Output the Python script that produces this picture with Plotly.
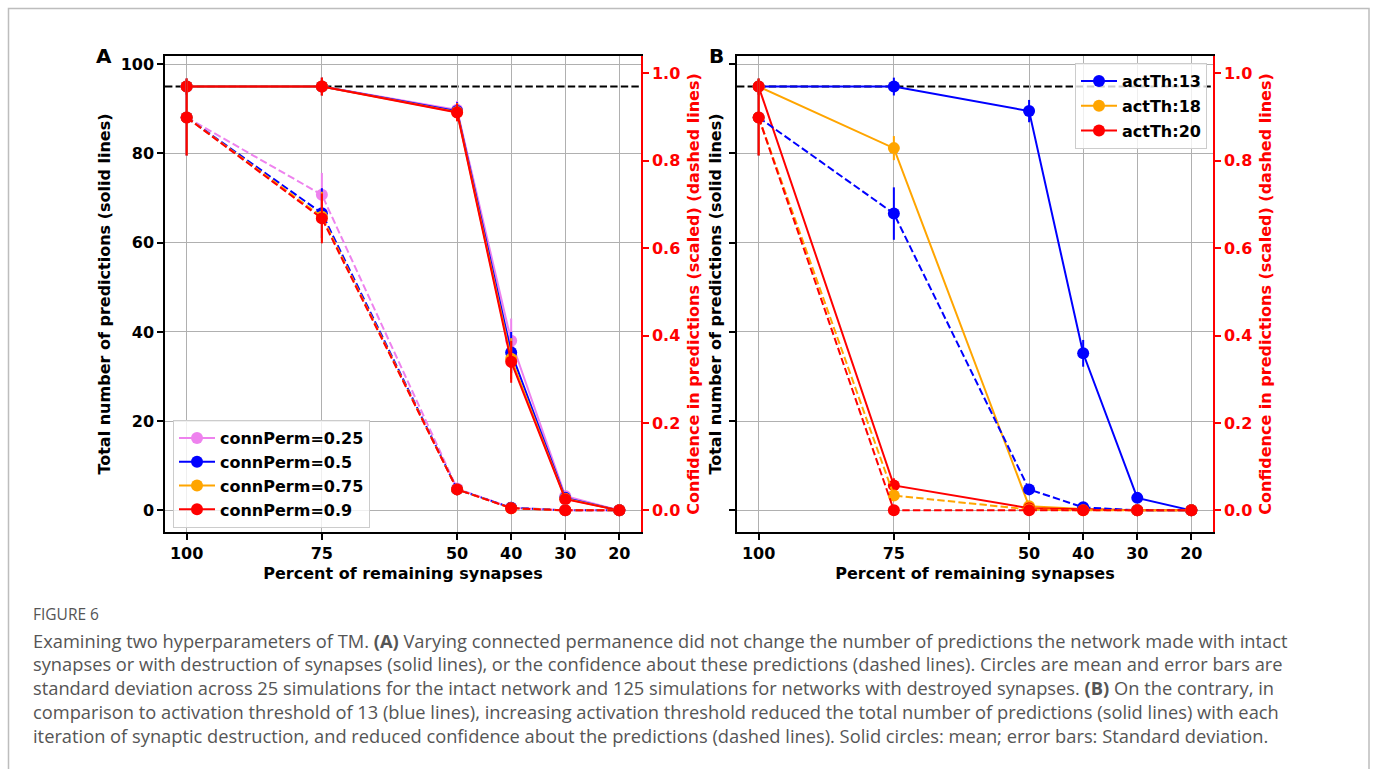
import plotly.graph_objects as go

# ---------------- data ----------------
x_pct = [100, 75, 50, 40, 30, 20]
x_ticks = [100, 75, 50, 40, 30, 20]

A_names = ["connPerm=0.25", "connPerm=0.5", "connPerm=0.75", "connPerm=0.9"]
A_colors = ["#EE82EE", "#0000FF", "#FFA500", "#FF0000"]
A_pred = [
    [95, 95, 89.8, 38.0, 3.2, 0],
    [95, 95, 89.5, 35.4, 2.8, 0],
    [95, 95, 89.3, 34.0, 2.6, 0],
    [95, 95, 89.2, 33.3, 2.5, 0],
]
A_pred_sd = [
    [1.8, 2.0, 2.0, 5.0, 0.8, 0],
    [1.8, 2.0, 2.0, 4.6, 0.8, 0],
    [1.8, 2.0, 2.0, 4.6, 0.8, 0],
    [1.8, 2.0, 2.0, 4.7, 0.8, 0],
]
A_conf = [
    [0.899, 0.722, 0.050, 0.006, 0, 0],
    [0.899, 0.680, 0.048, 0.006, 0, 0],
    [0.899, 0.672, 0.048, 0.005, 0, 0],
    [0.899, 0.668, 0.048, 0.005, 0, 0],
]
A_conf_sd = [
    [0.087, 0.050, 0.004, 0.003, 0, 0],
    [0.087, 0.057, 0.004, 0.003, 0, 0],
    [0.087, 0.057, 0.004, 0.003, 0, 0],
    [0.087, 0.057, 0.004, 0.003, 0, 0],
]

B_names = ["actTh:13", "actTh:18", "actTh:20"]
B_colors = ["#0000FF", "#FFA500", "#FF0000"]
B_pred = [
    [95, 95, 89.5, 35.2, 2.8, 0],
    [95, 81.2, 0.9, 0.3, 0, 0],
    [95, 5.6, 0.5, 0.2, 0, 0],
]
B_pred_sd = [
    [1.8, 2.0, 2.5, 3.0, 0.5, 0],
    [1.8, 2.7, 0.3, 0.2, 0, 0],
    [1.8, 1.6, 0.2, 0.1, 0, 0],
]
B_conf = [
    [0.899, 0.679, 0.048, 0.007, 0, 0],
    [0.899, 0.034, 0.002, 0, 0, 0],
    [0.899, 0, 0, 0, 0, 0],
]
B_conf_sd = [
    [0.087, 0.060, 0.004, 0.002, 0, 0],
    [0.087, 0.005, 0, 0, 0, 0],
    [0.087, 0, 0, 0, 0, 0],
]

max_pred_line = 95

caption_head = "FIGURE 6"
caption_lines = [
    "Examining two hyperparameters of TM. <b>(A)</b> Varying connected permanence did not change the number of predictions the network made with intact",
    "synapses or with destruction of synapses (solid lines), or the confidence about these predictions (dashed lines). Circles are mean and error bars are",
    "standard deviation across 25 simulations for the intact network and 125 simulations for networks with destroyed synapses. <b>(B)</b> On the contrary, in",
    "comparison to activation threshold of 13 (blue lines), increasing activation threshold reduced the total number of predictions (solid lines) with each",
    "iteration of synaptic destruction, and reduced confidence about the predictions (dashed lines). Solid circles: mean; error bars: Standard deviation.",
]

# ---------------- figure ----------------
W, H = 1375, 769
FONT = "DejaVu Sans"
DASH = "7.4px,3.2px"
fig = go.Figure()


def add_series(xa, ya_left, ya_right, name, color, pred, psd, conf, csd, legend):
    fig.add_trace(go.Scatter(
        x=x_pct, y=pred, xaxis=xa, yaxis=ya_left, name=name, legend=legend, legendgroup=name,
        mode="lines+markers", line=dict(color=color, width=2),
        marker=dict(size=12, color=color),
        error_y=dict(type="data", array=psd, visible=True, color=color, thickness=2, width=0),
        showlegend=True,
    ))
    fig.add_trace(go.Scatter(
        x=x_pct, y=conf, xaxis=xa, yaxis=ya_right, name=name, legend=legend, legendgroup=name,
        mode="lines+markers", line=dict(color=color, width=2, dash=DASH),
        marker=dict(size=12, color=color),
        error_y=dict(type="data", array=csd, visible=True, color=color, thickness=2, width=0),
        showlegend=False,
    ))


for n, c, p, ps, cf, cs in zip(A_names, A_colors, A_pred, A_pred_sd, A_conf, A_conf_sd):
    add_series("x", "y", "y2", n, c, p, ps, cf, cs, "legend")
for n, c, p, ps, cf, cs in zip(B_names, B_colors, B_pred, B_pred_sd, B_conf, B_conf_sd):
    add_series("x2", "y3", "y4", n, c, p, ps, cf, cs, "legend2")


def px_x(p):
    return p / W


def px_y(p):
    return 1 - p / H


ydom = [px_y(532), px_y(56)]
xdomA = [px_x(165), px_x(641)]
xdomB = [px_x(737), px_x(1213)]

tickfont = dict(family=FONT, size=16, color="black", weight="bold")
titlefont = dict(family=FONT, size=16, color="black", weight="bold")
redtick = dict(family=FONT, size=16, color="#FF0000", weight="bold")
redtitle = dict(family=FONT, size=16, color="#FF0000", weight="bold")

xcommon = dict(
    range=[104, 16], tickvals=x_ticks, ticktext=[str(t) for t in x_ticks],
    showgrid=True, gridcolor="#b0b0b0", gridwidth=1,
    showline=True, linecolor="black", linewidth=1.5, mirror=True,
    ticks="outside", ticklen=6, tickwidth=1.5, tickcolor="black",
    tickfont=tickfont, zeroline=False,
    title=dict(text="Percent of remaining synapses", font=titlefont, standoff=6),
)
yleft = dict(
    range=[-4.85, 101.85], tickvals=[0, 20, 40, 60, 80, 100], domain=ydom,
    showgrid=True, gridcolor="#b0b0b0", gridwidth=1,
    showline=True, linecolor="black", linewidth=1.5, mirror=False,
    ticks="outside", ticklen=6, tickwidth=1.5, tickcolor="black",
    tickfont=tickfont, zeroline=False,
    title=dict(text="Total number of predictions (solid lines)", font=titlefont, standoff=6),
)
yright = dict(
    range=[-0.0495, 1.0395], tickvals=[0, 0.2, 0.4, 0.6, 0.8, 1.0],
    ticktext=["0.0", "0.2", "0.4", "0.6", "0.8", "1.0"], side="right",
    showgrid=False, showline=True, linecolor="#FF0000", linewidth=1.5,
    ticks="outside", ticklen=6, tickwidth=1.5, tickcolor="#FF0000",
    tickfont=redtick, zeroline=False,
    title=dict(text="Confidence in predictions (scaled) (dashed lines)", font=redtitle, standoff=9),
)

legfont = dict(family=FONT, size=16, color="black", weight="bold")
fig.update_layout(
    width=W, height=H, margin=dict(l=0, r=0, t=0, b=0),
    paper_bgcolor="white", plot_bgcolor="white",
    font=dict(family=FONT),
    xaxis=dict(domain=xdomA, anchor="y", **xcommon),
    xaxis2=dict(domain=xdomB, anchor="y3", **xcommon),
    yaxis=dict(anchor="x", **yleft),
    yaxis2=dict(anchor="x", overlaying="y", **yright),
    yaxis3=dict(anchor="x2", **{**yleft, "showticklabels": False,
                                "title": dict(text="Total number of predictions (solid lines)",
                                              font=titlefont, standoff=4)}),
    yaxis4=dict(anchor="x2", overlaying="y3", **yright),
    legend=dict(
        x=px_x(173), y=px_y(420), xanchor="left", yanchor="top",
        bgcolor="rgba(255,255,255,0.8)", bordercolor="#cccccc", borderwidth=1,
        font=legfont, itemwidth=36, tracegroupgap=0,
        entrywidth=175, entrywidthmode="pixels",
    ),
    legend2=dict(
        x=px_x(1207), y=px_y(63), xanchor="right", yanchor="top",
        bgcolor="rgba(255,255,255,0.8)", bordercolor="#cccccc", borderwidth=1,
        font=legfont, itemwidth=36, tracegroupgap=1,
    ),
)

# horizontal dashed reference line (max predictions)
for xr, yr in [("x domain", "y"), ("x2 domain", "y3")]:
    fig.add_shape(type="line", xref=xr, yref=yr, x0=0, x1=1, y0=max_pred_line, y1=max_pred_line,
                  line=dict(color="black", width=2, dash=DASH), layer="below")

# panel letters
for letter, px in [("A", 104), ("B", 716)]:
    fig.add_annotation(text="<b>%s</b>" % letter, x=px_x(px), y=px_y(56), xref="paper", yref="paper",
                       xanchor="center", yanchor="middle", showarrow=False,
                       font=dict(family=FONT, size=20, color="black"))

# frame border around figure
fig.add_shape(type="rect", xref="paper", yref="paper", x0=px_x(8.5), x1=px_x(1369),
              y0=-0.05, y1=px_y(8.5), line=dict(color="#bdbdbd", width=1.5))

# caption
fig.add_annotation(text=caption_head, x=px_x(31), y=px_y(614), xref="paper", yref="paper",
                   xanchor="left", yanchor="middle", showarrow=False,
                   font=dict(family="Open Sans", size=15.5, color="#555555"))
capfont = dict(family="Open Sans", size=18.3, color="#555555")
for i, line in enumerate(caption_lines):
    fig.add_annotation(text=line, x=px_x(31), y=px_y(640 + 23.8 * i), xref="paper", yref="paper",
                       xanchor="left", yanchor="middle", showarrow=False, font=capfont)

fig.write_html("out.html")
